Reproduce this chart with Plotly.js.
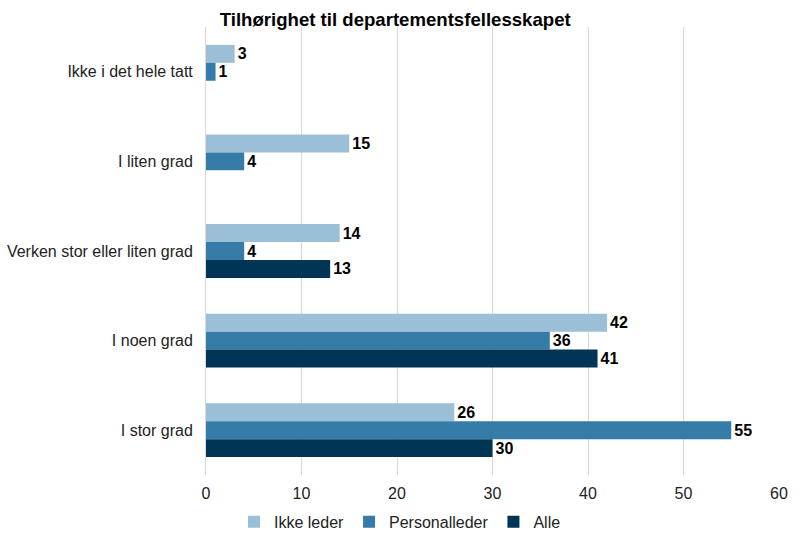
<!DOCTYPE html>
<html>
<head>
<meta charset="utf-8">
<script src="https://cdn.plot.ly/plotly-3.0.1.min.js"></script>
<style>html,body{margin:0;padding:0;background:#fff;}#chart{width:800px;height:539px;}</style>
</head>
<body>
<div id="chart"></div>
<script>
const categories = ["Ikke i det hele tatt", "I liten grad", "Verken stor eller liten grad", "I noen grad", "I stor grad"];
const seriesNames = ["Ikke leder", "Personalleder", "Alle"];
const ikkeLeder = [3, 15, 14, 42, 26];
const personalleder = [1, 4, 4, 36, 55];
const alle = [null, null, 13, 41, 30];
const colors = ["#9bbfd6", "#357ca8", "#003556"];
const xTicks = [0, 10, 20, 30, 40, 50, 60];

const seriesValues = [ikkeLeder, personalleder, alle];
const traces = seriesValues.map((vals, i) => ({
  type: "bar",
  orientation: "h",
  name: seriesNames[i],
  y: categories,
  x: vals,
  marker: {color: colors[i]},
  text: vals.map(v => v == null ? "" : String(v)),
  textposition: "outside",
  cliponaxis: false,
  textfont: {family: "Liberation Sans, Arial, sans-serif", size: 16, color: "#000", weight: "bold"},
  hoverinfo: "x+name"
}));

const layout = {
  width: 800, height: 539,
  margin: {l: 206, r: 21, t: 27, b: 64},
  paper_bgcolor: "#fff", plot_bgcolor: "#fff",
  font: {family: "Liberation Sans, Arial, sans-serif", size: 16, color: "#222"},
  title: {text: "<b>Tilhørighet til departementsfellesskapet</b>", x: 0.494, xref: "container", xanchor: "center", y: 0.963, yref: "container", yanchor: "middle", font: {size: 18.6, color: "#000"}},
  barmode: "group",
  bargap: 0.4,
  bargroupgap: 0,
  xaxis: {range: [0, 60], tickvals: xTicks, ticktext: xTicks.map(String), showgrid: true, gridcolor: "#d9d9d9", gridwidth: 1, zeroline: false, showline: false, ticks: "", ticklabelstandoff: 7, tickfont: {size: 16, color: "#222"}, fixedrange: true},
  yaxis: {autorange: "reversed", showline: true, linecolor: "#d9d9d9", ticks: "", ticklabelstandoff: 9, tickfont: {size: 16, color: "#222"}, showgrid: false},
  legend: {orientation: "h", x: 0.5, xref: "container", xanchor: "center", y: 0.032, yref: "container", yanchor: "middle", font: {size: 16, color: "#222"}, traceorder: "normal", itemwidth: 30},
  showlegend: true
};
Plotly.newPlot("chart", traces, layout, {displayModeBar: false, staticPlot: true});
</script>
</body>
</html>
